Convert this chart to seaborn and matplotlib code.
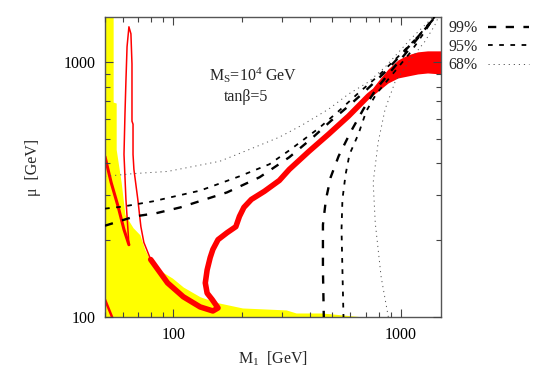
import numpy as np
import matplotlib
matplotlib.use("Agg")
import matplotlib.pyplot as plt
from matplotlib.lines import Line2D
from matplotlib.ticker import FixedLocator, NullFormatter
import seaborn as sns

# ---------------- data ----------------
# yellow excluded region: upper boundary
yellow_x = [50, 54.3, 54.3, 56.0, 56.0, 58.9, 61.2, 66.4, 71.2, 74.8, 81.1, 89.6, 99.0,
            110.5, 131, 155, 201, 313, 346, 449, 650]
yellow_y = [1500, 1500, 696, 690, 454, 337, 252, 224, 210, 184, 160, 150, 142,
            131, 120, 114, 108.5, 106.6, 103.7, 103.7, 100.5]

# red relic-density curves
red_arm_x = [50, 53.2, 57.1, 60.6, 63.7]
red_arm_y = [425, 337, 271, 220, 192]
red_spike_x = [63.7, 61.8, 60.6, 61.2, 61.8, 62.5, 63.7, 65.0, 65.7, 65.7, 66.4, 66.4,
               67.0, 69.7, 71.9, 74.1, 79.4]
red_spike_y = [192, 289, 434, 624, 842, 1146, 1373, 1289, 982, 586, 570, 434,
               379, 289, 226, 196, 168]
red_band_x = [79.4, 94.2, 110.5, 131, 149, 157, 148, 140.6, 138, 140.6, 145, 149, 157,
              172, 188, 195, 204, 220, 251, 292, 323, 394, 481, 588, 719, 755]
red_band_y = [168, 136, 120, 109.5, 105.6, 108.5, 117, 124, 136, 153, 171, 184, 201,
              214, 226, 248, 269, 289, 311, 343, 379, 446, 521, 613, 735, 762]
red_tip_x = [719, 794, 878, 970, 1072, 1185, 1309, 1500]
red_tip_lo = [718, 769, 827, 865, 881, 897, 905, 897]
red_tip_hi = [752, 842, 938, 1018, 1066, 1095, 1105, 1105]
red_corner_x = [50, 53.7]
red_corner_y = [117, 100]

# confidence-level contours
cl99_up_x = [50, 67.6, 83.6, 107.3, 172, 239, 323, 406, 491, 588, 697, 835, 1020, 1210, 1405]
cl99_up_y = [228, 248, 255, 269, 308, 353, 423, 502, 586, 671, 769, 897, 1085, 1277, 1490]
cl99_rt_x = [458, 454, 454, 468, 491, 532, 600, 684, 778, 905, 1072, 1247, 1405]
cl99_rt_y = [100, 153, 230, 289, 353, 427, 530, 653, 783, 922, 1105, 1312, 1490]

cl95_up_x = [50, 60.0, 81.1, 131, 195, 264, 323, 436, 532, 650, 794, 970, 1185, 1405]
cl95_up_y = [266, 271, 284, 313, 356, 397, 450, 550, 641, 755, 881, 1047, 1254, 1503]
cl95_rt_x = [559, 553, 548, 553, 571, 594, 650, 704, 778, 905, 1105, 1271, 1405]
cl95_rt_y = [100, 153, 220, 289, 362, 434, 521, 641, 748, 881, 1095, 1312, 1503]

cl68_up_x = [50, 67.0, 94.2, 160, 216, 292, 367, 481, 588, 719, 852, 1105, 1405]
cl68_up_y = [356, 365, 372, 408, 454, 507, 565, 653, 748, 834, 955, 1232, 1517]
cl68_rt_x = [880, 818, 771, 755, 794, 852, 942, 1105, 1271, 1405, 1463]
cl68_rt_y = [100, 144, 234, 337, 484, 653, 834, 1027, 1199, 1386, 1503]

cl_labels = ["99%", "95%", "68%"]
tick_vals = [100, 1000]
tick_labels = ["100", "1000"]

# ---------------- styling ----------------
sns.set_style("ticks")
plt.rcParams["font.family"] = ["Liberation Serif", "DejaVu Serif"]
plt.rcParams["mathtext.fontset"] = "custom"
plt.rcParams["mathtext.rm"] = "Liberation Serif"
plt.rcParams["mathtext.it"] = "Liberation Serif:italic"

RED = "#ff0000"
YEL = "#ffff00"
ls99 = (0, (3.5, 4.0))
ls95 = (0, (2.6, 3.6))
ls68 = (0, (1.2, 4.0))
FS = 11.5

fig = plt.figure(figsize=(5.45, 3.82), dpi=100)
ax = fig.add_axes([105 / 545, 1 - 317 / 382, 336 / 545, 300 / 382])
ax.set_xscale("log")
ax.set_yscale("log")
ax.set_axisbelow(False)

ax.fill_between(yellow_x, 100, yellow_y, color=YEL, lw=0, zorder=1)

def path(x, y, **kw):
    sns.lineplot(x=x, y=y, sort=False, estimator=None, ax=ax, **kw)

path(red_corner_x, red_corner_y, color=RED, lw=1.8, zorder=2)
path(red_arm_x, red_arm_y, color=RED, lw=2.2, zorder=2)
path(red_spike_x, red_spike_y, color=RED, lw=1.1, zorder=2)
path(red_band_x, red_band_y, color=RED, lw=4.0, zorder=2, solid_joinstyle="round")
ax.fill_between(red_tip_x, red_tip_lo, red_tip_hi, color=RED, lw=0, zorder=2)

cl99_x = cl99_up_x + cl99_rt_x[::-1]
cl99_y = cl99_up_y + cl99_rt_y[::-1]
cl95_x = cl95_up_x + cl95_rt_x[::-1]
cl95_y = cl95_up_y + cl95_rt_y[::-1]

path(cl99_x, cl99_y, color="black", lw=1.7, linestyle=ls99, zorder=3)
path(cl95_x, cl95_y, color="black", lw=1.3, linestyle=ls95, zorder=3)
path(cl68_up_x, cl68_up_y, color="#555555", lw=0.7, linestyle=ls68, zorder=3)
path(cl68_rt_x, cl68_rt_y, color="#555555", lw=0.7, linestyle=ls68, zorder=3)

ax.set_xlim(50, 1500)
ax.set_ylim(100, 1500)

ax.xaxis.set_major_locator(FixedLocator(tick_vals))
ax.yaxis.set_major_locator(FixedLocator(tick_vals))
ax.set_xticklabels(tick_labels)
ax.set_yticklabels(tick_labels)
ax.xaxis.set_minor_formatter(NullFormatter())
ax.yaxis.set_minor_formatter(NullFormatter())
ax.tick_params(which="both", direction="in", top=True, right=True,
               colors="#444444", labelcolor="black", labelsize=FS, width=0.8)
ax.tick_params(which="major", length=6, pad=7)
ax.tick_params(which="minor", length=3.5)
for s in ax.spines.values():
    s.set_color("#555555")
    s.set_linewidth(1.0)

ax.set_xlabel(r"M$_\mathregular{1}$  [GeV]", fontsize=FS, labelpad=5)
ax.set_ylabel("μ  [GeV]", fontsize=FS, labelpad=16)

ax.text(0.44, 0.807, r"M$_\mathregular{S}$=10$^\mathregular{4}$ GeV", transform=ax.transAxes,
        ha="center", va="center", fontsize=FS)
ax.text(0.42, 0.733, "tanβ=5", transform=ax.transAxes,
        ha="center", va="center", fontsize=FS)

handles = [Line2D([], [], color="black", lw=1.7, linestyle=ls99),
           Line2D([], [], color="black", lw=1.3, linestyle=ls95),
           Line2D([], [], color="#555555", lw=0.7, linestyle=ls68)]
fig.legend(handles, cl_labels, loc="upper left", bbox_to_anchor=(0.797, 0.984),
           frameon=False, markerfirst=False, fontsize=FS, handlelength=2.6,
           handletextpad=0.6, labelspacing=0.15)

fig.savefig("out.png", dpi=100)
